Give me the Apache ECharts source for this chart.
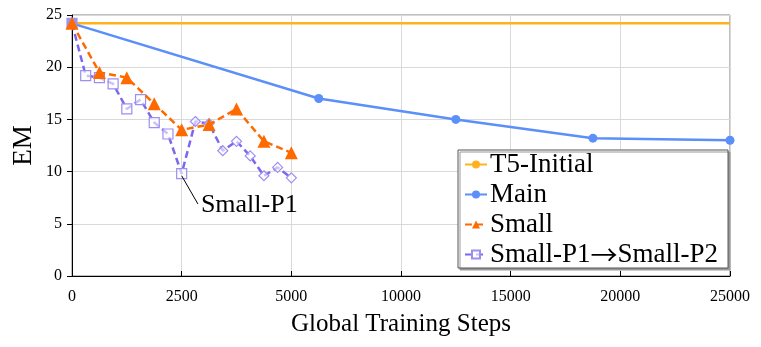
<!DOCTYPE html>
<html>
<head>
<meta charset="utf-8">
<script src="https://cdn.jsdelivr.net/npm/echarts@6/dist/echarts.min.js"></script>
<style>
  html, body { margin: 0; padding: 0; background: #fff; }
  #chart { width: 761px; height: 347px; }
</style>
</head>
<body>
<div id="chart"></div>
<script>
// x axis ticks are evenly spaced but not linear (0, 2500, 5000, then every 5000)
const tickSteps = [0, 2500, 5000, 10000, 15000, 20000, 25000];
const tickLabels = ['0', '2500', '5000', '10000', '15000', '20000', '25000'];

const t5Steps = [0, 25000];
const t5Values = [24.2, 24.2];

const mainSteps = [0, 6250, 12500, 18750, 25000];
const mainValues = [24.2, 17.0, 15.0, 13.2, 13.0];

const smallSteps = [0, 625, 1250, 1875, 2500, 3125, 3750, 4375, 5000];
const smallValues = [24.2, 19.5, 19.0, 16.5, 14.0, 14.5, 16.0, 12.9, 11.8];

const p1Steps = [0, 312.5, 625, 937.5, 1250, 1562.5, 1875, 2187.5, 2500];
const p1Values = [24.2, 19.2, 19.0, 18.4, 16.0, 16.9, 14.7, 13.6, 9.8];
const p2Steps = [2812.5, 3125, 3437.5, 3750, 4062.5, 4375, 4687.5, 5000];
const p2Values = [14.8, 14.6, 12.0, 12.9, 11.5, 9.6, 10.4, 9.4];

// map a step count to its place on the evenly spaced tick axis
function pos(s) {
  for (let i = 1; i < tickSteps.length; i++) {
    if (s <= tickSteps[i]) {
      return i - 1 + (s - tickSteps[i - 1]) / (tickSteps[i] - tickSteps[i - 1]);
    }
  }
  return tickSteps.length - 1;
}
const pairs = (xs, ys) => xs.map((x, i) => [pos(x), ys[i]]);

const font = 'Liberation Serif';
const purple = '#7B68EE';
const p1p2Name = 'Small-P1\u2192Small-P2';

const p1p2Data = pairs(p1Steps, p1Values).map((v, i) => ({
  value: v, symbol: 'rect', symbolSize: 10,
  itemStyle: i === 0 ? { color: '#9b95f2', borderColor: '#9b95f2' } : {}
})).concat(pairs(p2Steps, p2Values).map(v => ({
  value: v, symbol: 'diamond', symbolSize: 10
})));

const chart = echarts.init(document.getElementById('chart'));
chart.setOption({
  animation: false,
  textStyle: { fontFamily: font },
  grid: {
    left: 72, right: 31, top: 15, bottom: 71,
    outerBoundsMode: 'none', containLabel: false,
    show: true, borderColor: '#7f7f7f', borderWidth: 1
  },
  legend: {
    orient: 'vertical',
    left: 458, top: 150,
    padding: [1, 10, 0, 6],
    itemGap: 3,
    itemWidth: 22, itemHeight: 10,
    backgroundColor: '#fff',
    borderColor: '#555', borderWidth: 1,
    shadowColor: '#999', shadowOffsetX: 2, shadowOffsetY: 2, shadowBlur: 0,
    textStyle: {
      fontFamily: font, fontSize: 27, color: '#000', padding: [0, 0, 0, -2],
      rich: {
        a: { fontFamily: font, fontSize: 27, color: '#000' },
        arr: { fontFamily: 'Noto Sans CJK JP', fontSize: 27, color: '#000' }
      }
    },
    formatter: n => n === p1p2Name ? '{a|Small-P1}{arr|\u2192}{a|Small-P2}' : n,
    data: ['T5-Initial', 'Main', 'Small', p1p2Name]
  },
  xAxis: {
    type: 'value', min: 0, max: tickSteps.length - 1, interval: 1,
    name: 'Global Training Steps', nameLocation: 'middle', nameGap: 36,
    nameTextStyle: { fontFamily: font, fontSize: 25, color: '#000' },
    axisLine: { show: true, lineStyle: { color: '#000' } },
    axisTick: { show: true, inside: true, length: 5, lineStyle: { color: '#000' } },
    axisLabel: {
      fontFamily: font, fontSize: 16, color: '#000', margin: 13,
      formatter: v => tickLabels[Math.round(v)]
    },
    splitLine: { show: true, lineStyle: { color: '#d9d9d9' } }
  },
  yAxis: {
    type: 'value', min: 0, max: 25, interval: 5,
    name: 'EM', nameLocation: 'middle', nameGap: 35, nameRotate: 90,
    nameMoveOverlap: false,
    nameTextStyle: { fontFamily: font, fontSize: 27, color: '#000' },
    axisLine: { show: true, lineStyle: { color: '#000' } },
    axisTick: { show: true, length: 5, lineStyle: { color: '#000' } },
    axisLabel: { fontFamily: font, fontSize: 16, color: '#000', margin: 10 },
    splitLine: { show: true, lineStyle: { color: '#d9d9d9' } }
  },
  series: [
    {
      name: 'T5-Initial', type: 'line',
      data: pairs(t5Steps, t5Values),
      symbol: 'none', z: 2,
      lineStyle: { color: '#FFB21F', width: 2.5 },
      itemStyle: { color: '#FFB21F' }
    },
    {
      name: 'Main', type: 'line',
      data: pairs(mainSteps, mainValues),
      symbol: 'circle', symbolSize: 9, z: 3,
      lineStyle: { color: '#5B8FF9', width: 2.5 },
      itemStyle: { color: '#5B8FF9' }
    },
    {
      name: 'Small', type: 'line',
      data: pairs(smallSteps, smallValues),
      symbol: 'triangle', symbolSize: 13, z: 5,
      lineStyle: { color: '#FF6A00', width: 2.5, type: [7, 4] },
      itemStyle: { color: '#FF6A00' }
    },
    {
      name: p1p2Name, type: 'line',
      data: p1p2Data,
      symbol: 'rect', symbolSize: 10, z: 4,
      lineStyle: { color: purple, width: 2.5, type: [7, 4] },
      itemStyle: { color: 'rgba(255,255,255,0.6)', borderColor: '#9b8ff2', borderWidth: 1.2 },
      markLine: {
        silent: true, symbol: 'none',
        lineStyle: { color: '#000', width: 1, type: 'solid' },
        label: { show: false },
        data: [[{ coord: [pos(2500), 9.6] }, { coord: [pos(2870), 6.9] }]]
      },
      markPoint: {
        silent: true, symbol: 'circle', symbolSize: 0,
        label: {
          show: true, position: 'right', distance: 3,
          formatter: 'Small-P1', fontFamily: font, fontSize: 26, color: '#000'
        },
        data: [{ coord: [pos(2870), 6.8] }]
      }
    }
  ]
});
</script>
</body>
</html>
